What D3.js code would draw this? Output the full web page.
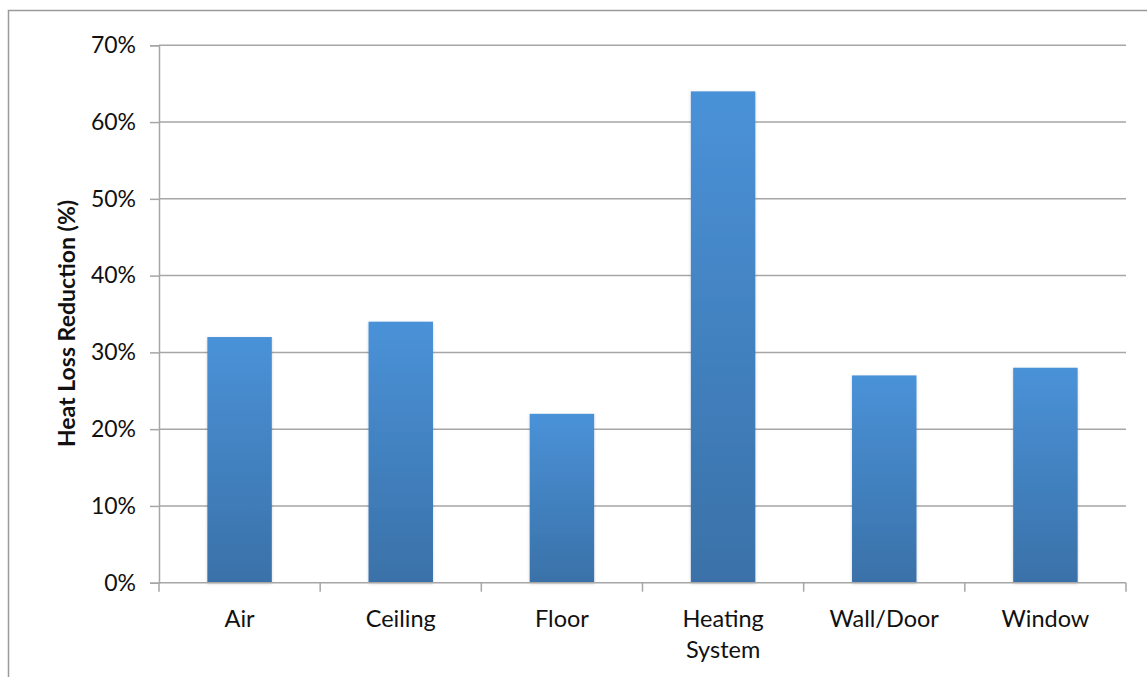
<!DOCTYPE html>
<html>
<head>
<meta charset="utf-8">
<script src="https://cdn.jsdelivr.net/npm/d3@7/dist/d3.min.js"></script>
<style>
  html, body { margin: 0; padding: 0; background: #fff; }
  svg { display: block; }
  text { font-family: Lato, "Open Sans", "Liberation Sans", sans-serif; fill: #111; }
</style>
</head>
<body>
<script>
// Heat loss reduction by building component
const categories = ["Air", "Ceiling", "Floor", "Heating System", "Wall/Door", "Window"];
const reductions = [0.32, 0.34, 0.22, 0.64, 0.27, 0.28];
const yTicks = [0, 0.1, 0.2, 0.3, 0.4, 0.5, 0.6, 0.7];
const yTitle = "Heat Loss Reduction (%)";

const W = 1147, H = 677;
const plot = { left: 159, right: 1126, top: 45.3, bottom: 582.7 };

const svg = d3.select("body").append("svg").attr("width", W).attr("height", H);

const defs = svg.append("defs");
const grad = defs.append("linearGradient")
  .attr("id", "barFill").attr("x1", 0).attr("y1", 0).attr("x2", 0).attr("y2", 1);
grad.append("stop").attr("offset", "0%").attr("stop-color", "#4a92d8");
grad.append("stop").attr("offset", "100%").attr("stop-color", "#3a71a8");

const shadow = defs.append("filter").attr("id", "barShadow")
  .attr("x", "-20%").attr("y", "-5%").attr("width", "140%").attr("height", "110%");
shadow.append("feDropShadow").attr("dx", 0).attr("dy", 1)
  .attr("stdDeviation", 1.5).attr("flood-color", "#000").attr("flood-opacity", 0.18);

// outer chart frame
svg.append("path")
  .attr("d", `M8.5,${H} V10.5 H${W}`)
  .attr("fill", "none").attr("stroke", "#9a9a9a").attr("stroke-width", 1.5);

const x = d3.scaleBand().domain(categories).range([plot.left, plot.right])
  .paddingInner(0.6).paddingOuter(0.3);
const xOuter = d3.scaleBand().domain(categories).range([plot.left, plot.right]);
const y = d3.scaleLinear().domain([0, 0.7]).range([plot.bottom, plot.top]);

// horizontal gridlines
svg.append("g").selectAll("line").data(yTicks.filter(t => t > 0)).join("line")
  .attr("x1", plot.left).attr("x2", plot.right)
  .attr("y1", d => y(d)).attr("y2", d => y(d))
  .attr("stroke", "#a6a6a6").attr("stroke-width", 1.5);

// y axis
const yAxis = svg.append("g").attr("transform", `translate(${plot.left},0)`)
  .call(d3.axisLeft(y).tickValues(yTicks).tickFormat(d3.format(".0%")).tickSize(9).tickPadding(14));
yAxis.select(".domain").attr("stroke", "#a6a6a6").attr("stroke-width", 1.5);
yAxis.selectAll(".tick line").attr("stroke", "#a6a6a6").attr("stroke-width", 1.5);
yAxis.selectAll(".tick text").attr("font-size", 23).attr("fill", "#111")
  .style("font-family", "Lato, 'Open Sans', sans-serif");

// bars
svg.append("g").selectAll("rect").data(categories).join("rect")
  .attr("x", d => x(d))
  .attr("width", x.bandwidth())
  .attr("y", (d, i) => y(reductions[i]))
  .attr("height", (d, i) => y(0) - y(reductions[i]))
  .attr("fill", "url(#barFill)")
  .attr("filter", "url(#barShadow)");

// x axis baseline and category boundary ticks
const xg = svg.append("g");
xg.append("line").attr("x1", plot.left).attr("x2", plot.right)
  .attr("y1", plot.bottom).attr("y2", plot.bottom)
  .attr("stroke", "#a6a6a6").attr("stroke-width", 1.5);
const bounds = categories.map(c => xOuter(c)).concat([plot.right]);
xg.selectAll("line.b").data(bounds).join("line").attr("class", "b")
  .attr("x1", d => d).attr("x2", d => d)
  .attr("y1", plot.bottom).attr("y2", plot.bottom + 9)
  .attr("stroke", "#a6a6a6").attr("stroke-width", 1.5);

// category labels (wrap two-word label)
const labels = xg.selectAll("text.cat").data(categories).join("text").attr("class", "cat")
  .attr("text-anchor", "middle").attr("font-size", 23.5)
  .attr("transform", d => `translate(${xOuter(d) + xOuter.bandwidth() / 2},627)`);
labels.each(function(d) {
  const words = d === "Heating System" ? ["Heating", "System"] : [d];
  d3.select(this).selectAll("tspan").data(words).join("tspan")
    .attr("x", 0).attr("dy", (w, i) => i === 0 ? 0 : 31).text(w => w);
});

// y axis title
svg.append("text")
  .attr("transform", `translate(75,323.5) rotate(-90)`)
  .attr("text-anchor", "middle").attr("font-size", 23).attr("font-weight", "bold")
  .text(yTitle);
</script>
</body>
</html>
